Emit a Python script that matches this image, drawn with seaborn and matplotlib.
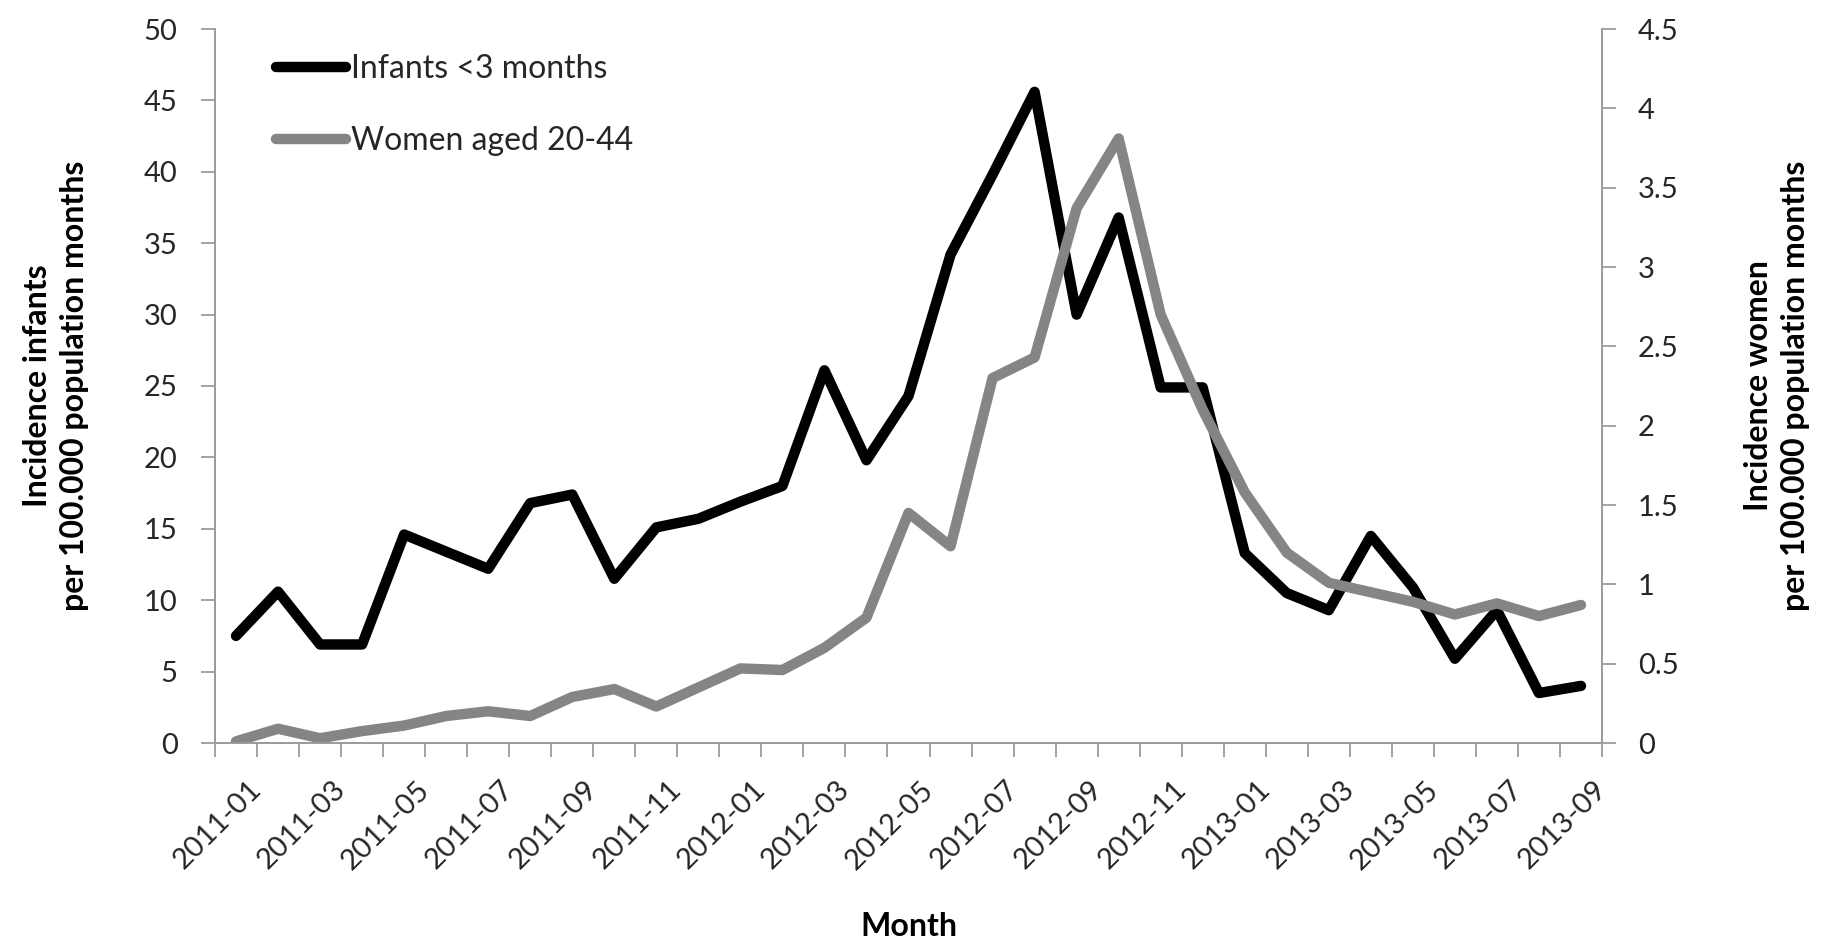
import matplotlib
matplotlib.use("Agg")
import matplotlib.pyplot as plt
import matplotlib.transforms as mtransforms
from matplotlib.lines import Line2D
import pandas as pd
import seaborn as sns

# Monthly incidence per 100.000 population months
months = [
    "2011-01", "2011-02", "2011-03", "2011-04", "2011-05", "2011-06",
    "2011-07", "2011-08", "2011-09", "2011-10", "2011-11", "2011-12",
    "2012-01", "2012-02", "2012-03", "2012-04", "2012-05", "2012-06",
    "2012-07", "2012-08", "2012-09", "2012-10", "2012-11", "2012-12",
    "2013-01", "2013-02", "2013-03", "2013-04", "2013-05", "2013-06",
    "2013-07", "2013-08", "2013-09",
]
infants = [7.5, 10.6, 6.9, 6.9, 14.6, 13.4, 12.2, 16.8, 17.4, 11.5, 15.1, 15.7,
           16.9, 18.0, 26.1, 19.8, 24.3, 34.2, 39.8, 45.6, 30.0, 36.8, 24.9, 24.9,
           13.3, 10.5, 9.3, 14.5, 10.9, 5.9, 9.3, 3.5, 4.0]
women = [0.01, 0.09, 0.03, 0.075, 0.11, 0.17, 0.20, 0.17, 0.29, 0.34, 0.23, 0.35,
         0.47, 0.46, 0.60, 0.79, 1.45, 1.24, 2.30, 2.43, 3.37, 3.81, 2.70, 2.10,
         1.58, 1.20, 1.01, 0.95, 0.89, 0.81, 0.88, 0.80, 0.87]

series_labels = ["Infants <3 months", "Women aged 20-44"]
left_ticks = [0, 5, 10, 15, 20, 25, 30, 35, 40, 45, 50]
right_ticks = [0, 0.5, 1, 1.5, 2, 2.5, 3, 3.5, 4, 4.5]
right_ticklabels = ["0", "0.5", "1", "1.5", "2", "2.5", "3", "3.5", "4", "4.5"]

df = pd.DataFrame({"pos": range(len(months)), "month": months,
                   "infants": infants, "women": women})

sns.set_theme(style="white")
plt.rcParams["font.family"] = ["Lato", "DejaVu Sans"]

BLACK = "#000000"
GREY = "#858585"
AXIS = "#9c9c9c"
TXT = "#262626"
TICK_FS = 21

fig = plt.figure(figsize=(18.43, 9.48), dpi=100)
ax = fig.add_axes([215 / 1843, 1 - 743 / 948, (1602 - 215) / 1843, (743 - 29) / 948])
ax2 = ax.twinx()

line_kw = dict(solid_joinstyle="round", solid_capstyle="round")
sns.lineplot(data=df, x="pos", y="infants", ax=ax, color=BLACK, linewidth=7.5,
             legend=False, **line_kw)
sns.lineplot(data=df, x="pos", y="women", ax=ax2, color=GREY, linewidth=7.5,
             legend=False, **line_kw)

n = len(months)
for a in (ax, ax2):
    a.set_xlim(-0.5, n - 0.5)
    a.set_facecolor("none")
    a.grid(False)
    a.spines["top"].set_visible(False)
    for side in ("left", "right", "bottom"):
        a.spines[side].set_color(AXIS)
        a.spines[side].set_linewidth(1.3)

ax.set_ylim(0, 50)
ax2.set_ylim(0, 4.5)
ax.set_yticks(left_ticks)
ax.set_yticklabels([str(t) for t in left_ticks])
ax2.set_yticks(right_ticks)
ax2.set_yticklabels(right_ticklabels)

# Category axis: tick marks at bin edges, labels on every second month
ax.set_xticks([i - 0.5 for i in range(n + 1)])
ax.set_xticklabels([])
ax.set_xticks(list(range(0, n, 2)), minor=True)
ax.set_xticklabels(months[::2], minor=True, rotation=45, ha="right", va="top",
                   rotation_mode="anchor", fontsize=TICK_FS, color=TXT)
ax.tick_params(axis="x", which="major", direction="out", length=10, width=1.3,
               color=AXIS, bottom=True)
ax.tick_params(axis="x", which="minor", length=0, pad=24, bottom=True)
shift = mtransforms.ScaledTranslation(0.12, 0, fig.dpi_scale_trans)
for lbl in ax.get_xticklabels(minor=True):
    lbl.set_transform(lbl.get_transform() + shift)

ax.tick_params(axis="y", which="major", direction="out", length=10, width=1.3,
               color=AXIS, labelsize=TICK_FS, labelcolor=TXT, pad=17, left=True)
ax2.tick_params(axis="y", which="major", direction="out", length=10, width=1.3,
                color=AXIS, labelsize=TICK_FS, labelcolor=TXT, pad=16, right=True)
ax2.set_xlabel("")

ax.set_xlabel("Month", fontsize=23, fontweight="bold", color=BLACK)
ax.xaxis.set_label_coords(0.5, -(926 - 743) / 714)
ax.xaxis.label.set_va("center")

ax.set_ylabel("Incidence infants\nper 100.000 population months", fontsize=23,
              fontweight="bold", color=BLACK, linespacing=1.3)
ax.yaxis.label.set_va("center")
ax.yaxis.set_label_coords((56 - 215) / 1387, 0.5)

ax2.set_ylabel("Incidence women\nper 100.000 population months", fontsize=23,
               fontweight="bold", color=BLACK, linespacing=1.3, rotation=90)
ax2.yaxis.label.set_va("center")
ax2.yaxis.set_label_coords((1777 - 215) / 1387, 0.5)

handles = [Line2D([], [], color=BLACK, linewidth=7.5, solid_capstyle="round"),
           Line2D([], [], color=GREY, linewidth=7.5, solid_capstyle="round")]
leg = ax2.legend(handles, series_labels, loc="upper left",
                 bbox_to_anchor=(276 / 1843, 1 - 54 / 948),
                 bbox_transform=fig.transFigure, frameon=False, fontsize=23,
                 handlelength=2.2, handletextpad=0.15, labelspacing=1.33,
                 borderpad=0, borderaxespad=0)
for t in leg.get_texts():
    t.set_color(TXT)

fig.savefig("out.png", dpi=100, facecolor="white")
